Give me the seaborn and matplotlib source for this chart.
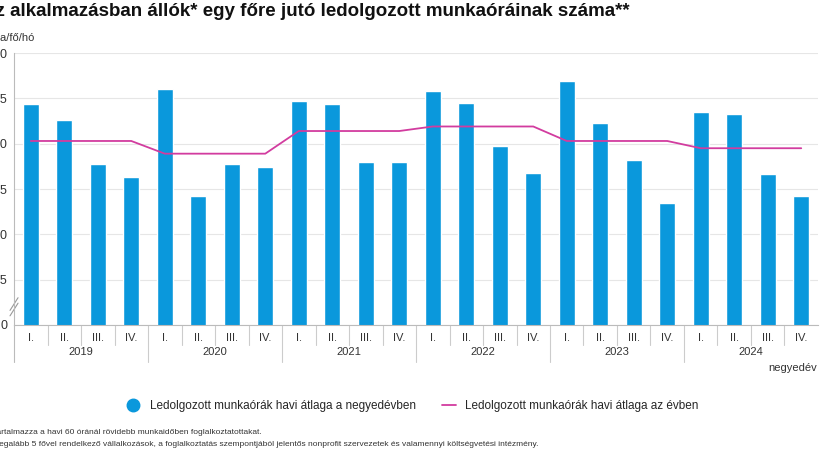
import matplotlib
matplotlib.use("Agg")
import matplotlib.pyplot as plt
import seaborn as sns
import pandas as pd
from matplotlib.lines import Line2D

years = ["2019", "2020", "2021", "2022", "2023", "2024"]
quarters = ["I.", "II.", "III.", "IV."]
quarterly = [154.4, 152.6, 147.8, 146.3,
             156.0, 144.2, 147.8, 147.4,
             154.7, 154.4, 148.0, 148.0,
             155.8, 154.5, 149.8, 146.8,
             156.9, 152.3, 148.2, 143.4,
             153.5, 153.3, 146.7, 144.2]
annual = [150.3, 148.9, 151.4, 151.9, 150.3, 149.5]

sns.set_style("white")
plt.rcParams['font.family'] = ['Liberation Sans', 'DejaVu Sans']

blue = "#0a98dc"
pink = "#d23c9f"

df = pd.DataFrame({"pos": list(range(len(quarterly))), "val": quarterly})
fig = plt.figure(figsize=(8.25, 4.5), dpi=100)
ax = fig.add_axes([0.017, 0.278, 0.9745, 0.604])
sns.barplot(data=df, x="pos", y="val", color=blue, width=0.48, ax=ax, saturation=1, native_scale=True)
line_y = [annual[i // 4] for i in range(len(quarterly))]
ax.plot(df["pos"], line_y, color=pink, lw=1.3)

ax.set_xlim(-0.5, len(quarterly) - 0.5)
ax.set_ylim(130, 160)
ax.set_yticks([130, 135, 140, 145, 150, 155, 160])
ax.set_yticklabels(["0", "135", "140", "145", "150", "155", "160"], fontsize=9, color="#333")
ax.yaxis.grid(True, color="#e6e6e6", lw=0.8)
ax.set_axisbelow(True)
ax.set_xticks([])
ax.set_xlabel("")
ax.set_ylabel("")
for s in ["top", "right"]:
    ax.spines[s].set_visible(False)
ax.spines["left"].set_color("#bbbbbb")
ax.spines["bottom"].set_color("#bbbbbb")
ax.tick_params(axis="y", length=0, pad=5)

# two-level x labels
tr = ax.get_xaxis_transform()
for i in range(len(quarterly)):
    ax.text(i, -0.05, quarters[i % 4], transform=tr, ha="center", va="center", fontsize=8, color="#333")
    if i > 0:
        depth = -0.135 if i % 4 == 0 else -0.075
        ax.add_line(Line2D([i - 0.5, i - 0.5], [0, depth], transform=tr, color="#cccccc", lw=0.8, clip_on=False))
for j, y in enumerate(years):
    ax.text(j * 4 + 1.5, -0.1, y, transform=tr, ha="center", va="center", fontsize=8, color="#333")
ax.add_line(Line2D([-0.5, -0.5], [0, -0.135], transform=tr, color="#bbbbbb", lw=0.8, clip_on=False))
# axis break marks
ax.plot([-0.62, -0.38], [131.0, 132.4], color="#999", lw=0.8, clip_on=False)
ax.plot([-0.62, -0.38], [131.6, 133.0], color="#999", lw=0.8, clip_on=False)

fig.text(-0.022, 0.975, "Az alkalmazásban állók* egy főre jutó ledolgozott munkaóráinak száma**",
         fontsize=13.5, fontweight="bold", va="center", ha="left", color="#111")
fig.text(-0.012, 0.915, "óra/fő/hó", fontsize=8, va="center", ha="left", color="#333")
fig.text(0.99, 0.182, "negyedév", fontsize=8, ha="right", va="center", color="#333")

handles = [Line2D([], [], marker="o", ls="none", color=blue, markersize=9),
           Line2D([], [], color=pink, lw=1.3)]
fig.legend(handles, ["Ledolgozott munkaórák havi átlaga a negyedévben",
                     "Ledolgozott munkaórák havi átlaga az évben"],
           loc="center", bbox_to_anchor=(0.5, 0.097), ncol=2, frameon=False, fontsize=8.5,
           handlelength=1.2, columnspacing=2.2)

fig.text(-0.013, 0.04, "*Tartalmazza a havi 60 óránál rövidebb munkaidőben foglalkoztatottakat.",
         fontsize=6, va="center", color="#333")
fig.text(-0.014, 0.012, "**Legalább 5 fővel rendelkező vállalkozások, a foglalkoztatás szempontjából jelentős nonprofit szervezetek és valamennyi költségvetési intézmény.",
         fontsize=6, va="center", color="#333")

fig.savefig("out.png", dpi=100)
